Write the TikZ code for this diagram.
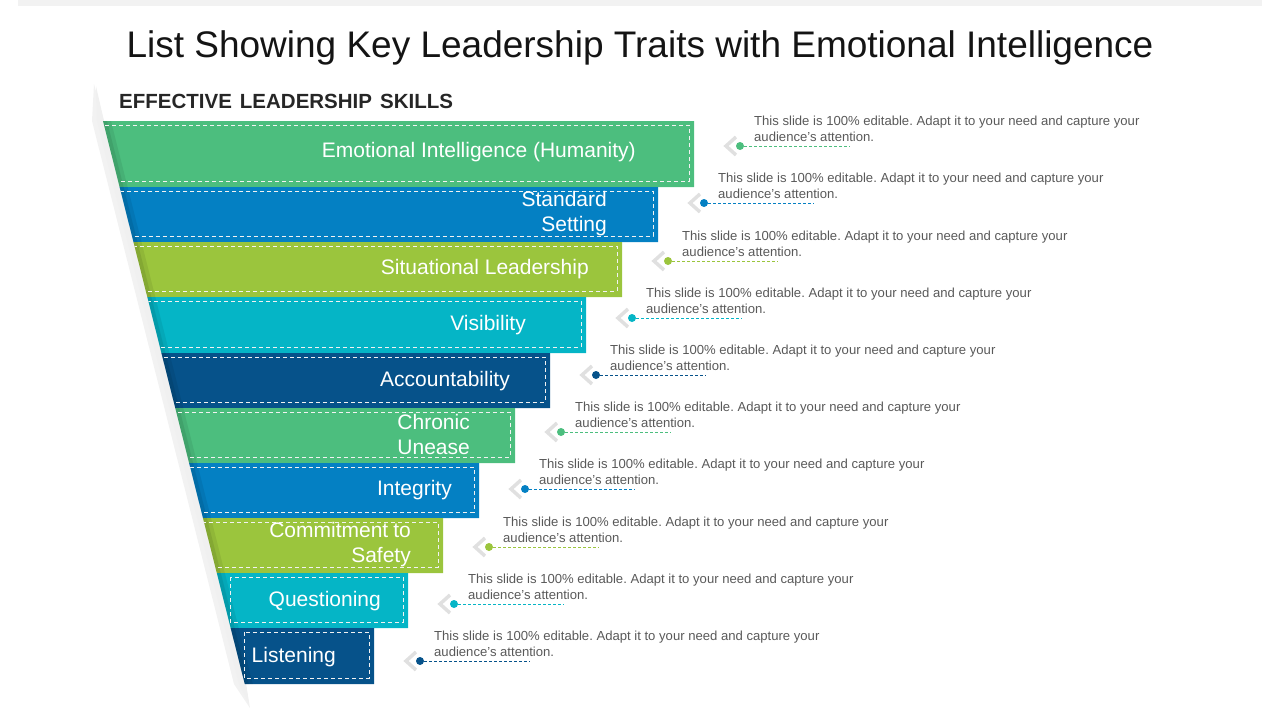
\documentclass[tikz,border=0pt]{standalone}
\usepackage{fontspec}
\setmainfont{Liberation Sans}
\frenchspacing
\definecolor{cgreen}{HTML}{4CBE7E}
\definecolor{cblue}{HTML}{0480C3}
\definecolor{clime}{HTML}{9BC53D}
\definecolor{ccyan}{HTML}{05B5C6}
\definecolor{cdark}{HTML}{06528A}
\definecolor{topgray}{HTML}{F2F2F2}
\definecolor{desctext}{HTML}{595959}
\begin{document}
\begin{tikzpicture}[x=1pt,y=-1pt,
  titlestyle/.style={font=\fontsize{37}{44}\selectfont, text=black!92, inner sep=0},
  headstyle/.style={font=\fontsize{20.5}{24}\selectfont\bfseries, text=black!85, inner sep=0},
  barlabel/.style={font=\fontsize{21}{25}\selectfont, text=white, inner sep=0, align=right},
  dotstyle/.style={circle, inner sep=0, minimum size=8pt},
  descstyle/.style={font=\fontsize{13.1}{16}\selectfont, text=desctext, inner sep=0, align=left},
  chev/.style={draw=black!12, line width=3.5pt, line join=miter},
  dashline/.style={dashed, line width=0.8pt, dash pattern=on 3pt off 2pt},
  innerdash/.style={draw=white!90!gray, dashed, line width=0.7pt, dash pattern=on 4pt off 3pt}
]
\useasboundingbox (0,0) rectangle (1280,720);
\fill[topgray] (18,0) rectangle (1262,6);
\node[titlestyle] (title) at (640,48) {List Showing Key Leadership Traits with Emotional Intelligence};
\node[headstyle, anchor=west] (heading) at (119,101) {EFFECTIVE\hspace{8pt}LEADERSHIP\hspace{8pt}SKILLS};
% left shadow
\fill[black!5] (94,84) -- (104,121) -- (246,684) -- (250,708) -- (234,684) -- (92,121) -- cycle;
\fill[black!6] (96,86) -- (104,121) -- (246,684) -- (249,704) -- (239,684) -- (97,121) -- cycle;
\foreach \i/\t/\b/\r/\c/\lx/\ly/\lab/\dy in {
 1/121/187/694/cgreen/636/152/{Emotional Intelligence (Humanity)}/146,
 2/187/242/658/cblue/607/214/{Standard\\Setting}/203,
 3/242/297/622/clime/589/269/{Situational Leadership}/261,
 4/297/353/586/ccyan/526/325/{Visibility}/318,
 5/353/408/550/cdark/510/381/{Accountability}/375,
 6/408/463/515/cgreen/470/434/{Chronic\\Unease}/432,
 7/463/518/479/cblue/452/490/{Integrity}/489,
 8/518/573/443/clime/411/545/{Commitment\hspace{5pt}to\\Safety}/547,
 9/573/628/408/ccyan/381/601/{Questioning}/604,
 10/628/684/374/cdark/336/657/{Listening}/661}
{
  \pgfmathsetmacro\xt{103+0.2518*(\t-121)}
  \pgfmathsetmacro\xb{103+0.2518*(\b-121)}
  \pgfmathsetmacro\xd{\i>8 ? 103+0.2518*(\b-127)+1 : \xt-10}
  \fill[\c] (\xt,\t) -- (\r,\t) -- (\r,\b) -- (\xb,\b) -- cycle;
  \begin{scope}
    \clip (\xt,\t) -- (\r,\t) -- (\r,\b) -- (\xb,\b) -- cycle;
    \fill[black, opacity=0.07] (\xt,\t) -- (\xt+8,\t) -- (\xb+8,\b) -- (\xb,\b) -- cycle;
    \fill[black, opacity=0.08] (\xt,\t) -- (\xt+4,\t) -- (\xb+4,\b) -- (\xb,\b) -- cycle;
    \draw[innerdash] (\xd,\t+4) rectangle (\r-5,\b-6);
  \end{scope}
  \node[barlabel, anchor=east] (lab\i) at (\lx,\ly) {\lab};
  \pgfmathsetmacro\dx{\r+46}
  \draw[chev] (\dx-4,\dy-9) -- (\dx-14,\dy) -- (\dx-4,\dy+9);
  \node[dotstyle, fill=\c] (dot\i) at (\dx,\dy) {};
  \coordinate (end\i) at (\dx+110,\dy);
  \draw[dashline, draw=\c] (dot\i) -- (end\i);
  \node[descstyle, anchor=west] (desc\i) at (\dx+14,\dy-17) {This slide is 100\% editable. Adapt it to your need and capture your\\audience's attention.};
}
\end{tikzpicture}
\end{document}
